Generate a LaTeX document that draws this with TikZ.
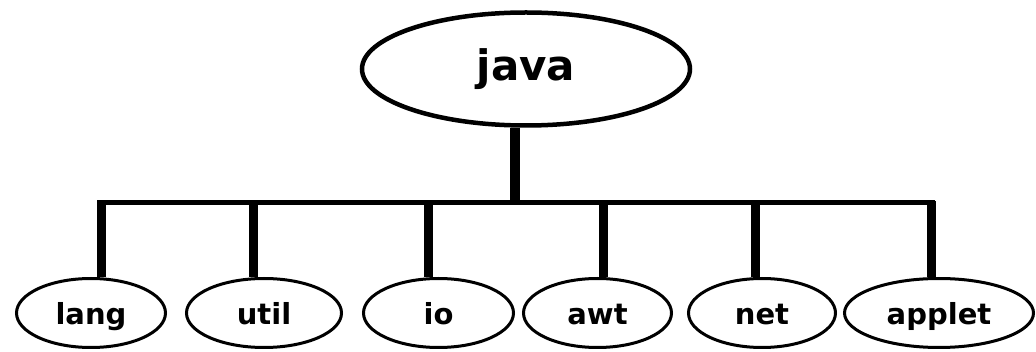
\documentclass[tikz,border=0pt]{standalone}
\usepackage{fontspec}
\setmainfont{DejaVu Sans}
\usetikzlibrary{shapes.geometric,backgrounds}
\begin{document}
\begin{tikzpicture}[x=1pt,y=-1pt,
  bigellipse/.style={ellipse,draw,line width=4.5pt,fill=white,inner sep=0pt,
    minimum width=328pt,minimum height=113pt,font=\bfseries\fontsize{42}{42}\selectfont,
    text height=23pt,text depth=0pt},
  pkg/.style={ellipse,draw,line width=3pt,fill=white,inner sep=0pt,
    minimum height=69pt,font=\bfseries\fontsize{29}{29}\selectfont,
    text height=24pt,text depth=0pt},
  stem/.style={line width=9pt},
  bar/.style={line width=5pt}]
\useasboundingbox (0,0) rectangle (1036,352);
\coordinate (bus) at (515,203);
\coordinate (barL) at (97,203);
\coordinate (barR) at (935,203);
\coordinate (s1) at (101,201);
\coordinate (s2) at (253,201);
\coordinate (s3) at (428,201);
\coordinate (s4) at (603,201);
\coordinate (s5) at (755,201);
\coordinate (s6) at (931,201);
\node[pkg,minimum width=149pt] (lang) at (91,313) {lang};
\node[pkg,minimum width=155pt] (util) at (264,313) {util};
\node[pkg,minimum width=150pt] (io) at (438.5,313) {io};
\node[pkg,minimum width=148pt] (awt) at (597.5,313) {awt};
\node[pkg,minimum width=147pt] (net) at (762,313) {net};
\node[pkg,minimum width=189pt] (applet) at (939,313) {applet};
\node[bigellipse] (java) at (526,69) {java};
\begin{scope}[on background layer]
\draw[stem,line width=10pt] (java.south -| bus) -- (bus);
\draw[bar] (barL) -- (barR);
\draw[stem] (s1) -- (s1 |- lang.north);
\draw[stem] (s2) -- (s2 |- util.north);
\draw[stem] (s3) -- (s3 |- io.north);
\draw[stem] (s4) -- (s4 |- awt.north);
\draw[stem] (s5) -- (s5 |- net.north);
\draw[stem] (s6) -- (s6 |- applet.north);
\end{scope}
\end{tikzpicture}
\end{document}
